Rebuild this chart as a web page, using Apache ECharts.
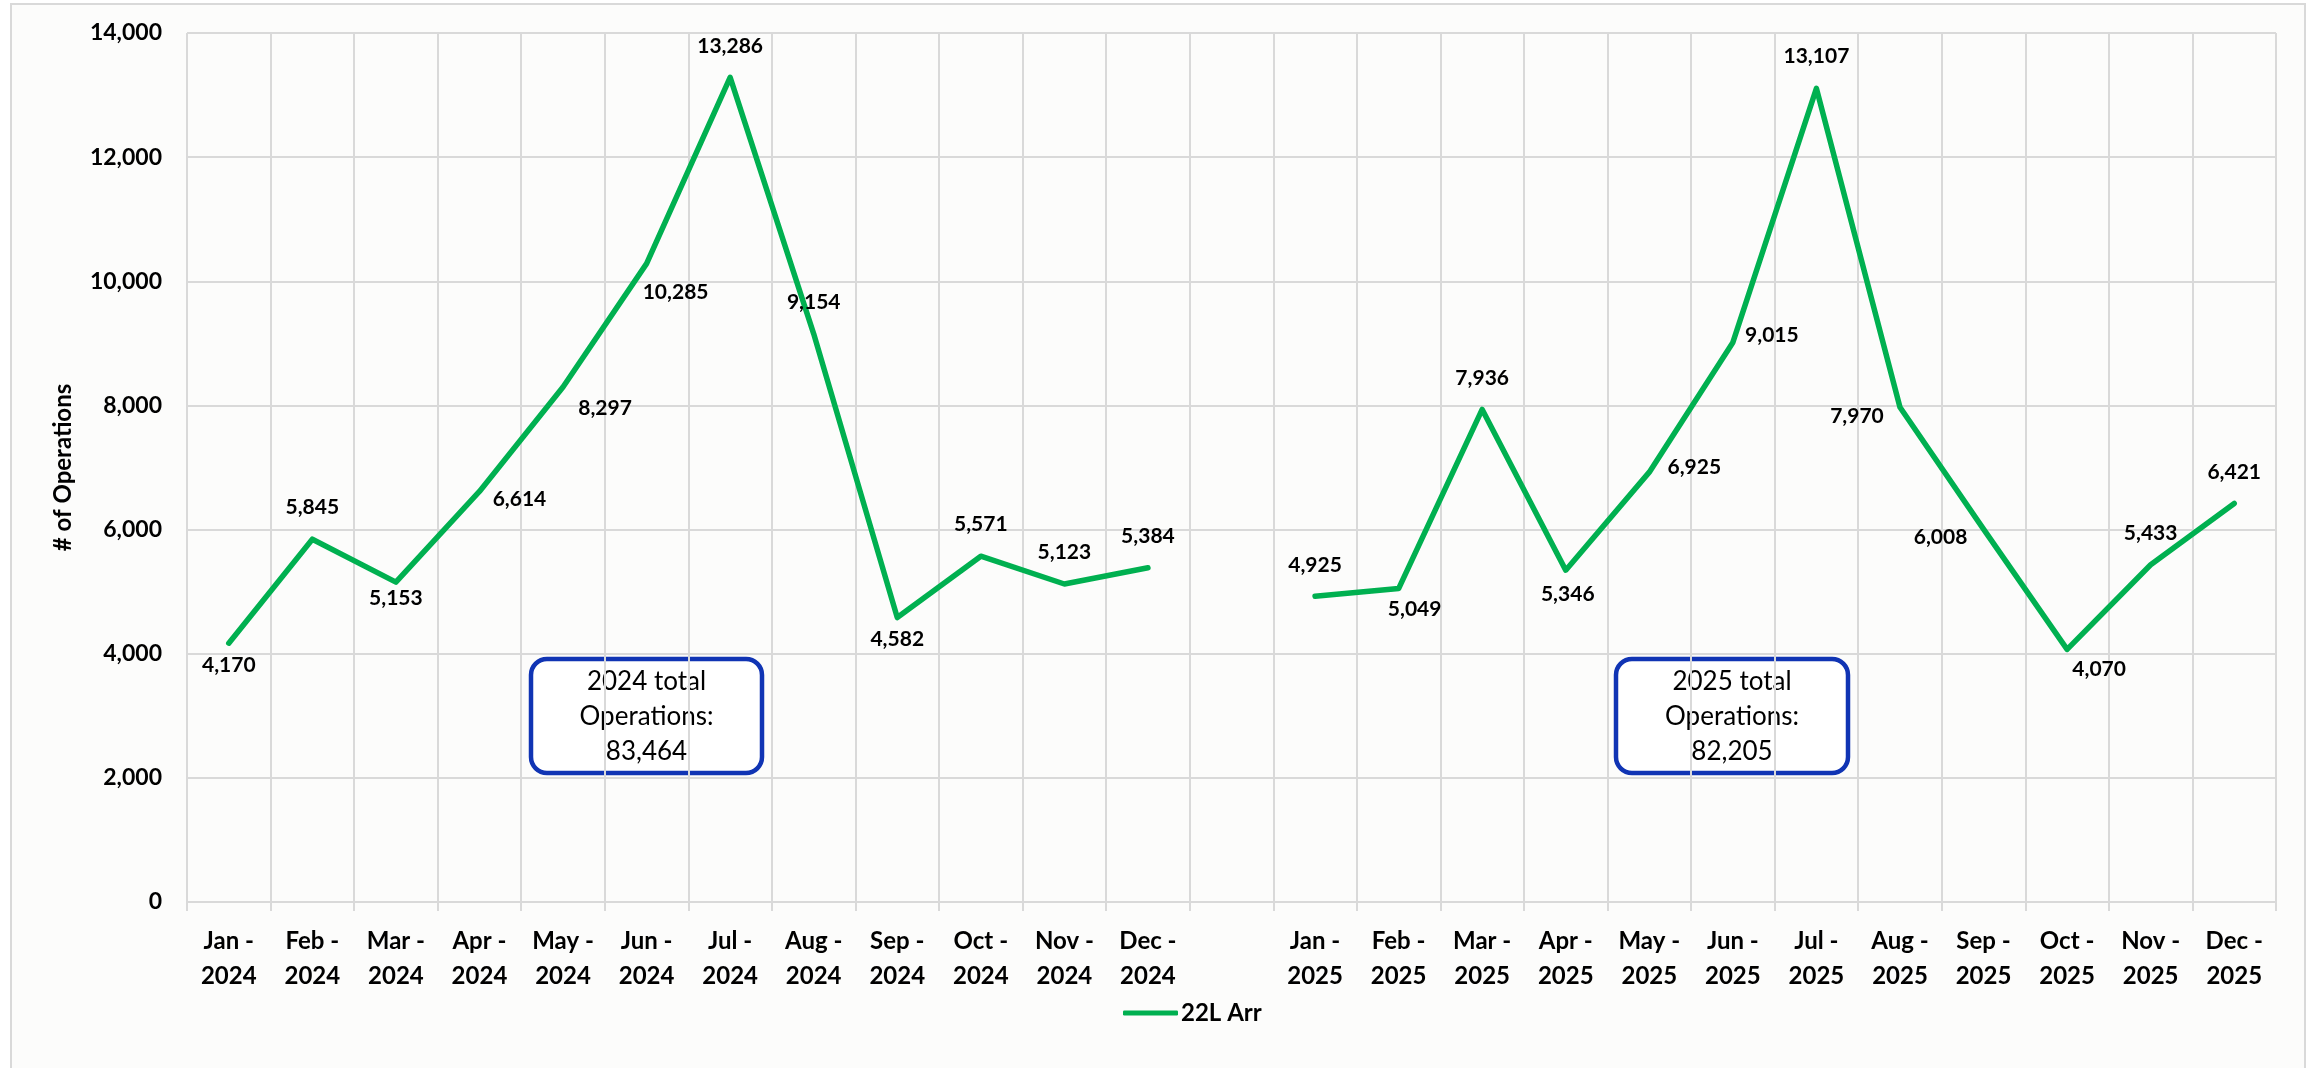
<!DOCTYPE html>
<html>
<head>
<meta charset="utf-8">
<script src="https://cdn.jsdelivr.net/npm/echarts@6/dist/echarts.min.js"></script>
<style>
  html, body { margin: 0; padding: 0; background: #ffffff; }
  #chart { width: 2310px; height: 1068px; }
</style>
</head>
<body>
<div id="chart"></div>
<script>
// ---- data ----
const months2024 = ['Jan - 2024','Feb - 2024','Mar - 2024','Apr - 2024','May - 2024','Jun - 2024','Jul - 2024','Aug - 2024','Sep - 2024','Oct - 2024','Nov - 2024','Dec - 2024'];
const months2025 = ['Jan - 2025','Feb - 2025','Mar - 2025','Apr - 2025','May - 2025','Jun - 2025','Jul - 2025','Aug - 2025','Sep - 2025','Oct - 2025','Nov - 2025','Dec - 2025'];
const values2024 = [4170, 5845, 5153, 6614, 8297, 10285, 13286, 9154, 4582, 5571, 5123, 5384];
const values2025 = [4925, 5049, 7936, 5346, 6925, 9015, 13107, 7970, 6008, 4070, 5433, 6421];
const total2024 = 83464;
const total2025 = 82205;
const seriesName = '22L Arr';
const yTicks = [0, 2000, 4000, 6000, 8000, 10000, 12000, 14000];

// label placement (offset of label centre from the point, px)
const labelOffsets2024 = [[0,22],[0,-32],[0,16],[40,8],[42,21],[29,29],[0,-31],[0,-32],[0,22],[0,-32],[0,-32],[0,-32]];
const labelOffsets2025 = [[0,-31],[16,21],[0,-31],[2,24],[45,-5],[39,-7],[0,-32],[-43,9],[-43,8],[32,20],[0,-32],[0,-31]];

// ---- build ----
const categories = months2024.concat([''], months2025);
const fmt = v => v.toLocaleString('en-US');
function item(v, off) {
  return { value: v, label: { show: true, position: 'inside', offset: off } };
}
const seriesData = values2024.map((v, i) => item(v, labelOffsets2024[i]))
  .concat([null], values2025.map((v, i) => item(v, labelOffsets2025[i])));

const FONT = 'Lato, "Open Sans", sans-serif';
const GRID = '#d9d9d9';

const chart = echarts.init(document.getElementById('chart'), null, { renderer: 'canvas' });
chart.setOption({
  backgroundColor: '#ffffff',
  animation: false,
  textStyle: { fontFamily: FONT },
  graphic: [
    { type: 'rect', z: -10, shape: { x: 11, y: 4, width: 2294, height: 1080 },
      style: { fill: '#fcfcfb', stroke: GRID, lineWidth: 2 }, silent: true },
    { type: 'group', z: 100, children: [
      { type: 'rect', shape: { x: 531, y: 659, width: 231, height: 114, r: 16 },
        style: { fill: '#ffffff', stroke: '#1034B4', lineWidth: 4.5 } },
      { type: 'text', x: 646.5, y: 717,
        style: { text: '2024 total\nOperations:\n' + fmt(total2024), font: '26px ' + FONT, fill: '#000',
          align: 'center', verticalAlign: 'middle', lineHeight: 35 } }
    ]},
    { type: 'group', z: 100, children: [
      { type: 'rect', shape: { x: 1616, y: 659, width: 232, height: 114, r: 16 },
        style: { fill: '#ffffff', stroke: '#1034B4', lineWidth: 4.5 } },
      { type: 'text', x: 1732, y: 717,
        style: { text: '2025 total\nOperations:\n' + fmt(total2025), font: '26px ' + FONT, fill: '#000',
          align: 'center', verticalAlign: 'middle', lineHeight: 35 } }
    ]}
  ],
  grid: { left: 187, right: 34, top: 33, bottom: 166, containLabel: false },
  legend: {
    data: [seriesName], left: 1118, top: 996,
    icon: 'roundRect', itemWidth: 55, itemHeight: 5, itemGap: 10,
    textStyle: { fontFamily: FONT, fontWeight: 'bold', fontSize: 24, color: '#000', padding: [0,0,0,-2] }
  },
  xAxis: {
    type: 'category', data: categories, boundaryGap: true,
    axisLine: { show: true, lineStyle: { color: GRID, width: 2 } },
    axisTick: { show: true, length: 9, interval: 0, lineStyle: { color: GRID, width: 2 } },
    splitLine: { show: true, interval: 0, lineStyle: { color: GRID, width: 2 } },
    axisLabel: {
      interval: 0, margin: 22, color: '#000', fontFamily: FONT, fontWeight: 'bold', fontSize: 24, lineHeight: 35,
      formatter: v => v ? v.replace(' - ', ' -\n') : ''
    }
  },
  yAxis: {
    type: 'value', min: 0, max: 14000, interval: 2000,
    name: '# of Operations', nameLocation: 'middle', nameGap: 112, nameRotate: 90,
    nameTextStyle: { fontFamily: FONT, fontWeight: 'bold', fontSize: 24, color: '#000' },
    axisLine: { show: false }, axisTick: { show: false },
    splitLine: { show: true, lineStyle: { color: GRID, width: 2 } },
    axisLabel: { margin: 25, color: '#000', fontFamily: FONT, fontWeight: 'bold', fontSize: 23,
      formatter: v => yTicks.includes(v) ? fmt(v) : '' }
  },
  series: [{
    name: seriesName, type: 'line', data: seriesData, connectNulls: false,
    symbol: 'circle', symbolSize: 1, showSymbol: true,
    lineStyle: { color: '#00B050', width: 5.5, cap: 'round', join: 'round' },
    itemStyle: { color: '#00B050' },
    label: { show: true, color: '#000', fontFamily: FONT, fontWeight: 'bold', fontSize: 21,
      formatter: p => fmt(p.value) },
    emphasis: { disabled: true }
  }]
});
</script>
</body>
</html>
